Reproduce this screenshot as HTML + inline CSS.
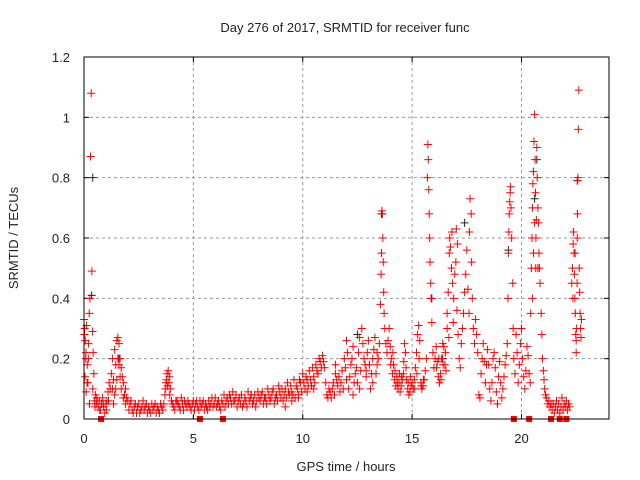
<!DOCTYPE html>
<html><head><meta charset="utf-8"><style>
html,body{margin:0;padding:0;background:#fff;}
svg{display:block;font-family:"Liberation Sans",sans-serif;}
</style></head><body>
<svg id="chart" width="640" height="480" viewBox="0 0 640 480">
<text x="345" y="32" text-anchor="middle" font-size="13" fill="#222">Day 276 of 2017, SRMTID for receiver func</text>
<text x="346" y="471" text-anchor="middle" font-size="13" fill="#222">GPS time / hours</text>
<text transform="translate(18,238) rotate(-90)" text-anchor="middle" font-size="13" fill="#222">SRMTID / TECUs</text>
<g id="grid"></g>
<g id="ticks"></g>
<g id="marks"></g>
<rect x="84" y="57" width="525" height="362" fill="none" stroke="#000" stroke-width="1"/>
</svg>
<script>
const xTicks=[0,5,10,15,20];
const yTicks=[0,0.2,0.4,0.6,0.8,1,1.2];
const yTickLabels=["0","0.2","0.4","0.6","0.8","1","1.2"];
const blackPoints=[[0.4,0.8],[0.35,0.41],[13.6,0.68],[15.9,0.4],[17.4,0.65],[20.6,0.73],[20.7,0.86],[22.55,0.79],[12.5,0.28],[16.4,0.2],[19.4,0.56],[1.6,0.2]];
const redA=[[0,0.33],[0.03,0.3],[0.06,0.26],[0.09,0.22],[0.12,0.31],[0.15,0.18],[0.18,0.12],[0.21,0.25],[0.24,0.35],[0.27,0.4],[0.3,0.87],[0.33,1.08],[0.36,0.49],[0.39,0.29],[0.42,0.22],[0.45,0.15],[0.48,0.06],[0.52,0.08],[0.56,0.05],[0.6,0.06],[0.05,0.14],[0.1,0.09],[0.2,0.2],[0.25,0.05],[0.02,0.28],[0.08,0.2],[0.14,0.12],[0.4,0.1],[0.5,0.04],[0.58,0.07]];
const redB=[[0.65,0.04],[0.7,0.06],[0.75,0.03],[0.8,0.05],[0.85,0.07],[0.9,0.04],[0.95,0.02],[1.0,0.05],[1.05,0.06],[1.1,0.09],[1.15,0.12],[1.2,0.1],[0.72,0.03],[0.88,0.05],[1.02,0.03],[1.12,0.06]];
const redC=[[1.25,0.15],[1.3,0.2],[1.35,0.13],[1.4,0.23],[1.45,0.18],[1.5,0.26],[1.55,0.27],[1.6,0.25],[1.65,0.2],[1.7,0.17],[1.75,0.14],[1.8,0.12],[1.85,0.08],[1.9,0.1],[1.95,0.07],[2.0,0.06],[1.3,0.1],[1.4,0.08],[1.5,0.13],[1.6,0.18],[1.7,0.1],[1.35,0.05],[1.45,0.1],[1.55,0.2],[1.65,0.14],[1.8,0.07],[1.9,0.05]];
const redD=[[2.1,0.05],[2.2,0.03],[2.3,0.04],[2.4,0.02],[2.5,0.05],[2.6,0.03],[2.7,0.06],[2.8,0.04],[2.9,0.02],[3.0,0.03],[3.1,0.05],[3.2,0.04],[3.3,0.02],[3.4,0.03],[3.5,0.05],[3.6,0.03],[2.05,0.03],[2.15,0.06],[2.25,0.02],[2.35,0.05],[2.45,0.04],[2.55,0.02],[2.65,0.04],[2.75,0.03],[2.85,0.05],[2.95,0.04],[3.05,0.02],[3.15,0.03],[3.25,0.05],[3.35,0.04],[3.45,0.02],[3.55,0.04]];
const redE=[[3.65,0.05],[3.7,0.08],[3.75,0.12],[3.8,0.15],[3.85,0.16],[3.9,0.14],[3.95,0.1],[4.0,0.06],[3.72,0.1],[3.78,0.13],[3.82,0.11],[3.88,0.12],[3.92,0.08]];
const redF=[[4.1,0.04],[4.2,0.06],[4.3,0.05],[4.4,0.03],[4.5,0.05],[4.6,0.06],[4.7,0.04],[4.8,0.05],[4.9,0.03],[5.0,0.06],[5.1,0.05],[5.2,0.04],[5.3,0.06],[5.4,0.05],[5.5,0.03],[5.6,0.04],[5.7,0.06],[5.8,0.05],[5.9,0.04],[6.0,0.07],[6.1,0.05],[6.2,0.04],[6.3,0.06],[6.4,0.08],[6.5,0.06],[6.6,0.05],[6.7,0.07],[6.8,0.09],[6.9,0.06],[7.0,0.04],[7.1,0.07],[7.2,0.08],[7.3,0.05],[7.4,0.06],[7.5,0.09],[7.6,0.07],[7.7,0.05],[7.8,0.08],[7.9,0.06],[8.0,0.07],[4.45,0.07],[5.25,0.03],[6.25,0.03],[7.25,0.04]];
const redF2=[[4.05,0.05],[4.15,0.03],[4.25,0.06],[4.35,0.04],[4.55,0.03],[4.65,0.05],[4.75,0.06],[4.85,0.04],[4.95,0.05],[5.05,0.03],[5.15,0.06],[5.35,0.04],[5.45,0.06],[5.55,0.05],[5.65,0.03],[5.75,0.04],[5.85,0.07],[5.95,0.05],[6.05,0.04],[6.15,0.06],[6.35,0.05],[6.45,0.04],[6.55,0.07],[6.65,0.08],[6.75,0.05],[6.85,0.06],[6.95,0.08],[7.05,0.06],[7.15,0.05],[7.35,0.07],[7.45,0.04],[7.55,0.06],[7.65,0.08],[7.75,0.06],[7.85,0.04],[7.95,0.09]];
const redG=[[8.1,0.08],[8.2,0.05],[8.3,0.07],[8.4,0.1],[8.5,0.06],[8.6,0.09],[8.7,0.05],[8.8,0.08],[8.9,0.11],[9.0,0.07],[9.1,0.06],[9.2,0.1],[9.3,0.12],[9.4,0.08],[9.5,0.09],[9.6,0.13],[9.7,0.11],[9.8,0.08],[9.9,0.12],[10.0,0.15],[10.1,0.1],[10.2,0.13],[10.3,0.16],[10.4,0.11],[10.5,0.14],[10.6,0.18],[10.7,0.15],[10.8,0.19],[10.9,0.21],[11.0,0.17],[9.2,0.04],[9.5,0.06],[9.8,0.07],[10.2,0.09],[10.5,0.1]];
const redG2=[[8.05,0.06],[8.15,0.09],[8.25,0.07],[8.35,0.05],[8.45,0.08],[8.55,0.07],[8.65,0.1],[8.75,0.07],[8.85,0.06],[8.95,0.09],[9.05,0.1],[9.15,0.08],[9.25,0.07],[9.35,0.09],[9.45,0.11],[9.55,0.08],[9.65,0.07],[9.75,0.1],[9.85,0.13],[9.95,0.09],[10.05,0.12],[10.15,0.14],[10.25,0.11],[10.35,0.13],[10.45,0.17],[10.55,0.12],[10.65,0.16],[10.75,0.2],[10.85,0.17],[10.95,0.19]];
const redH=[[11.1,0.08],[11.2,0.1],[11.3,0.07],[11.4,0.12],[11.5,0.15],[11.6,0.11],[11.7,0.09],[11.8,0.16],[11.9,0.2],[12.0,0.13],[12.1,0.1],[12.2,0.18],[12.3,0.24],[12.4,0.15],[12.5,0.12],[12.6,0.27],[12.7,0.3],[12.8,0.2],[12.9,0.14],[13.0,0.26],[13.1,0.1],[13.2,0.2],[13.3,0.27],[13.4,0.22],[13.5,0.25],[11.5,0.18],[12.0,0.26],[12.3,0.08],[12.6,0.1],[12.9,0.16],[13.2,0.12],[13.4,0.18]];
const redH2=[[11.05,0.12],[11.15,0.07],[11.25,0.09],[11.35,0.1],[11.45,0.08],[11.55,0.13],[11.65,0.14],[11.75,0.12],[11.85,0.1],[11.95,0.17],[12.05,0.22],[12.15,0.14],[12.25,0.2],[12.35,0.12],[12.45,0.17],[12.55,0.22],[12.65,0.16],[12.75,0.25],[12.85,0.18],[12.95,0.22],[13.05,0.18],[13.15,0.15],[13.25,0.23],[13.35,0.15],[13.45,0.2]];
const redI=[[13.55,0.38],[13.58,0.48],[13.6,0.55],[13.62,0.69],[13.64,0.68],[13.66,0.6],[13.68,0.52],[13.7,0.42],[13.72,0.35],[13.75,0.3],[13.8,0.25],[13.85,0.22],[13.9,0.26]];
const redJ=[[13.95,0.3],[14.0,0.24],[14.05,0.2],[14.1,0.15],[14.15,0.18],[14.2,0.13],[14.25,0.11],[14.3,0.14],[14.35,0.1],[14.4,0.12],[14.45,0.09],[14.5,0.11],[14.55,0.13],[14.6,0.15],[14.65,0.25],[14.7,0.22],[14.75,0.13],[14.8,0.1],[14.85,0.08],[14.9,0.09],[14.95,0.11],[15.0,0.12],[14.02,0.18],[14.12,0.22],[14.22,0.16],[14.32,0.12],[14.42,0.15],[14.52,0.14],[14.62,0.19],[14.72,0.17],[14.82,0.12],[14.92,0.14]];
const redK=[[15.05,0.1],[15.1,0.13],[15.15,0.17],[15.2,0.22],[15.25,0.28],[15.3,0.31],[15.35,0.26],[15.4,0.12],[15.45,0.1],[15.5,0.11],[15.55,0.13],[15.6,0.16],[15.65,0.2],[15.12,0.1],[15.22,0.15],[15.32,0.2],[15.42,0.11],[15.52,0.13]];
const redL=[[15.7,0.8],[15.72,0.91],[15.74,0.86],[15.76,0.76],[15.78,0.68],[15.8,0.6],[15.82,0.52],[15.85,0.45],[15.87,0.4],[15.9,0.32],[15.95,0.22],[16.0,0.17]];
const redM=[[16.05,0.2],[16.1,0.24],[16.15,0.19],[16.2,0.14],[16.25,0.12],[16.3,0.15],[16.35,0.2],[16.4,0.25],[16.45,0.24],[16.5,0.18],[16.55,0.16],[16.6,0.3],[16.12,0.17],[16.22,0.2],[16.32,0.13],[16.42,0.18],[16.52,0.22]];
const redN=[[16.65,0.42],[16.7,0.55],[16.72,0.6],[16.75,0.57],[16.8,0.5],[16.82,0.62],[16.85,0.45],[16.9,0.4],[16.95,0.48],[17.0,0.52],[17.05,0.36],[17.1,0.28],[17.15,0.2],[17.2,0.17],[17.25,0.25],[17.3,0.3],[16.6,0.35],[16.68,0.27],[16.88,0.32],[17.02,0.63],[17.08,0.58]];
const redO=[[17.35,0.35],[17.4,0.42],[17.45,0.48],[17.5,0.56],[17.55,0.43],[17.6,0.35],[17.62,0.62],[17.65,0.73],[17.7,0.68],[17.72,0.52],[17.75,0.4],[17.8,0.3]];
const redP=[[17.85,0.25],[17.9,0.33],[17.95,0.28],[18.0,0.22],[18.05,0.08],[18.1,0.07],[18.15,0.15],[18.2,0.2],[18.25,0.25],[18.3,0.19],[18.35,0.12],[18.4,0.18],[18.45,0.23],[18.5,0.18],[18.55,0.1],[18.6,0.06],[18.65,0.12],[18.7,0.2],[18.75,0.22],[18.8,0.17],[18.85,0.09],[18.9,0.05],[18.95,0.14],[19.0,0.19],[19.05,0.12],[19.1,0.07],[19.15,0.1],[19.2,0.14],[19.25,0.18],[19.3,0.21]];
const redQ=[[19.35,0.25],[19.38,0.4],[19.4,0.55],[19.42,0.62],[19.44,0.68],[19.46,0.72],[19.48,0.75],[19.5,0.77],[19.52,0.7],[19.55,0.6],[19.6,0.45],[19.62,0.3]];
const redR=[[19.65,0.2],[19.7,0.15],[19.75,0.28],[19.8,0.22],[19.85,0.12],[19.9,0.18],[19.95,0.25],[20.0,0.3],[20.05,0.2],[20.1,0.14],[20.15,0.1],[20.2,0.16],[20.25,0.24],[20.3,0.21],[20.35,0.15],[20.4,0.12]];
const redS=[[20.42,0.35],[20.45,0.5],[20.48,0.6],[20.5,0.7],[20.52,0.78],[20.55,0.82],[20.57,0.92],[20.6,1.01],[20.62,0.86],[20.64,0.75],[20.66,0.6],[20.68,0.66],[20.7,0.9],[20.72,0.8],[20.75,0.7],[20.78,0.65],[20.8,0.55],[20.82,0.5],[20.85,0.45],[20.5,0.4],[20.55,0.55],[20.6,0.65],[20.65,0.5],[20.75,0.5]];
const redT=[[20.9,0.35],[20.93,0.28],[20.96,0.2],[21.0,0.16],[21.03,0.13],[21.06,0.1],[21.1,0.08],[21.15,0.07],[21.2,0.05],[21.25,0.06],[21.3,0.04],[21.35,0.05]];
const redU=[[21.4,0.03],[21.45,0.05],[21.5,0.02],[21.55,0.04],[21.6,0.06],[21.65,0.03],[21.7,0.05],[21.75,0.02],[21.8,0.04],[21.85,0.07],[21.9,0.03],[21.95,0.05],[22.0,0.04],[22.05,0.06],[22.1,0.03],[22.15,0.05],[22.2,0.04]];
const redV=[[22.3,0.45],[22.33,0.5],[22.36,0.58],[22.38,0.62],[22.4,0.55],[22.42,0.48],[22.44,0.4],[22.46,0.35],[22.48,0.28],[22.5,0.22],[22.52,0.3],[22.54,0.45],[22.55,0.6],[22.56,0.68],[22.57,0.79],[22.58,0.8],[22.6,0.96],[22.62,1.09],[22.64,0.5],[22.66,0.42],[22.68,0.35],[22.7,0.3],[22.72,0.27],[22.74,0.33],[22.35,0.4],[22.45,0.55],[22.5,0.26]];
const clippedHours=[0.78,5.3,6.35,19.65,20.35,21.35,21.75,22.05];

const X0=84,X1=609,Y0=419,Y1=57,XMAX=24,YMAX=1.2;
function xs(h){return X0+(X1-X0)*h/XMAX;}
function ys(v){return Y0-(Y0-Y1)*v/YMAX;}
const NS="http://www.w3.org/2000/svg";
const grid=document.getElementById('grid'),ticks=document.getElementById('ticks'),marks=document.getElementById('marks');
function mk(tag,attrs,parent){const e=document.createElementNS(NS,tag);for(const k in attrs)e.setAttribute(k,attrs[k]);parent.appendChild(e);return e;}
xTicks.forEach(t=>{
  const x=xs(t);
  if(t>0){const g=mk('line',{x1:x,y1:Y0,x2:x,y2:Y1,stroke:'#999','stroke-dasharray':'3,3','stroke-width':1},grid);
  
  }
  const tk=mk('line',{x1:x,y1:Y0,x2:x,y2:Y0-5,stroke:'#000'},ticks);
  
  
  const tk2=mk('line',{x1:x,y1:Y1,x2:x,y2:Y1+5,stroke:'#000'},ticks);
  
  
  const lb=mk('text',{x:x,y:443,'text-anchor':'middle','font-size':13,fill:'#222'},ticks);
  lb.textContent=String(t);
  
  
});
yTicks.forEach((t,i)=>{
  const y=ys(t);
  if(t>0&&t<1.2){const g=mk('line',{x1:X0,y1:y,x2:X1,y2:y,stroke:'#999','stroke-dasharray':'3,3','stroke-width':1},grid);
  
  }
  const tk=mk('line',{x1:X0,y1:y,x2:X0+5,y2:y,stroke:'#000'},ticks);
  
  
  const tk2=mk('line',{x1:X1,y1:y,x2:X1-5,y2:y,stroke:'#000'},ticks);
  
  
  const lb=mk('text',{x:70,y:y+5,'text-anchor':'end','font-size':13,fill:'#222'},ticks);
  lb.textContent=yTickLabels[i];
  
  
});
function plus(h,v,color,name){
  const x=xs(h),y=ys(v);
  const p=mk('path',{d:`M${x-4},${y}H${x+4}M${x},${y-4}V${y+4}`,stroke:color,'stroke-width':1,fill:'none'},marks);
  
  
}
blackPoints.forEach(p=>plus(p[0],p[1],'#222','black-point'));
[redA,redB,redC,redD,redE,redF,redF2,redG,redG2,redH,redH2,redI,redJ,redK,redL,redM,redN,redO,redP,redQ,redR,redS,redT,redU,redV].forEach(seg=>seg.forEach(p=>plus(p[0],p[1],'#f00','red-point')));
clippedHours.forEach(h=>{
  const r=mk('rect',{x:xs(h)-3,y:Y0-3,width:6,height:6,fill:'#f00'},marks);
  
  
});
</script>
</body></html>
